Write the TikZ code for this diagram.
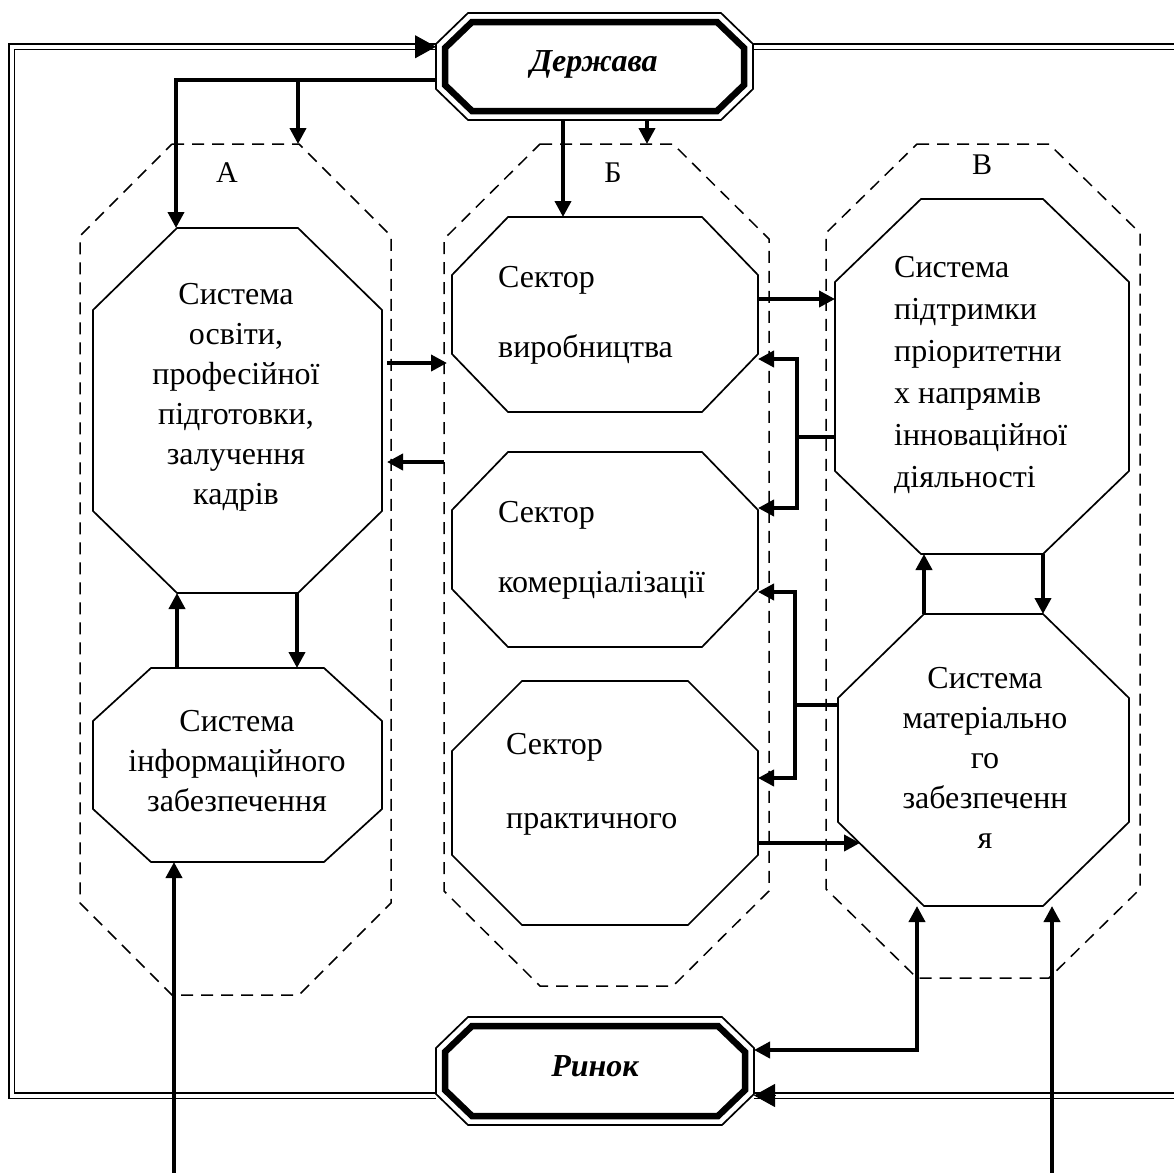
\documentclass[tikz,border=0pt]{standalone}
\usepackage{fontspec}
\setmainfont{Liberation Serif}
\usetikzlibrary{arrows.meta,calc}

\newcommand\octshape[4][]{\draw[#1] ($(#2.north west)+(#3,0)$) -- ($(#2.north east)+(-#3,0)$) -- ($(#2.north east)+(0,#4)$) -- ($(#2.south east)+(0,-#4)$) -- ($(#2.south east)+(-#3,0)$) -- ($(#2.south west)+(#3,0)$) -- ($(#2.south west)+(0,-#4)$) -- ($(#2.north west)+(0,#4)$) -- cycle;}

\tikzset{
  box/.style={inner sep=0pt, outer sep=0pt, draw=none},
  txt/.style={font=\fontsize{32}{40}\selectfont, inner sep=0pt, align=center},
  ltxt/.style={font=\fontsize{32}{40}\selectfont, inner sep=0pt, anchor=base west},
  lbl/.style={font=\fontsize{30}{36}\selectfont, inner sep=0pt},
  ttl/.style={font=\fontsize{32}{38}\selectfont\bfseries\itshape, inner sep=0pt},
  tip/.style={-{Triangle[length=16pt,width=16pt]}},
  conn/.style={line width=3.8pt, tip},
  wire/.style={line width=3.8pt},
  octline/.style={line width=1.7pt},
  dashoct/.style={line width=1.5pt, dash pattern=on 12pt off 8pt},
  dbl/.style={double, double distance=4pt, line width=1.6pt},
  frtip/.style={-{Triangle[length=21pt,width=23pt]}, line width=1pt}
}

\begin{document}
\begin{tikzpicture}[x=1pt,y=-1pt]
\path[use as bounding box] (0,0) rectangle (1173,1173);

% ---------- node boxes ----------
\node[box, minimum width=317pt, minimum height=107pt] (derz) at (594.5,66.5) {};
\node[box, minimum width=299pt, minimum height=89pt] (derzi) at (594.5,66.5) {};
\node[box, minimum width=318pt, minimum height=108pt] (rynok) at (595,1071) {};
\node[box, minimum width=300pt, minimum height=90pt] (rynoki) at (595,1071) {};

\node[box, minimum width=311pt, minimum height=851pt] (gA) at (235.5,569.5) {};
\node[box, minimum width=325pt, minimum height=842pt] (gB) at (606.5,565) {};
\node[box, minimum width=314pt, minimum height=834pt] (gC) at (983,561) {};

\node[box, minimum width=289pt, minimum height=365pt] (a1) at (237.5,410.5) {};
\node[box, minimum width=289pt, minimum height=194pt] (a2) at (237.5,765) {};
\node[box, minimum width=306pt, minimum height=195pt] (b1) at (605,314.5) {};
\node[box, minimum width=306pt, minimum height=195pt] (b2) at (605,549.5) {};
\node[box, minimum width=306pt, minimum height=244pt] (b3) at (605,803) {};
\node[box, minimum width=294pt, minimum height=355pt] (c1) at (982,376.5) {};
\node[box, minimum width=291pt, minimum height=292pt] (c2) at (983.5,760) {};

% ---------- frame ----------
\coordinate (fL) at (11.5,0);
\coordinate (fR) at (1185,0);
\coordinate (fT) at (0,46.75);
\coordinate (fB) at (0,1095.5);
\draw[dbl] (rynok.west |- fB) -- (fL |- fB) -- (fL |- fT) -- (derz.west |- fT);
\draw[dbl] (derz.east |- fT) -- (fR |- fT);
\draw[dbl] (fR |- fB) -- (rynok.east |- fB);

% ---------- groups ----------
\octshape[dashoct]{gA}{92}{92}
\octshape[dashoct]{gB}{96}{95}
\octshape[dashoct]{gC}{91}{89}

% ---------- blocks ----------
\octshape[octline]{a1}{84}{82}
\octshape[octline]{a2}{58}{53}
\octshape[octline]{b1}{56}{58}
\octshape[octline]{b2}{56}{58}
\octshape[octline]{b3}{70}{70}
\octshape[octline]{c1}{86}{83}
\octshape[octline]{c2}{86}{84}

% ---------- Держава / Ринок ----------
\octshape[octline, fill=white]{derz}{32}{31}
\octshape[line width=6.5pt]{derzi}{27}{26}
\octshape[octline, fill=white]{rynok}{32}{31}
\octshape[line width=6.5pt]{rynoki}{27}{26}
\draw[frtip] ($(derz.west |- fT)+(-21,0)$) -- (derz.west |- fT);
\draw[frtip] ($(rynok.east |- fB)+(21,0)$) -- (rynok.east |- fB);

% ---------- connectors ----------
\coordinate (k1) at (176,80);
\coordinate (k2) at (298,80);
\draw[conn] (derz.west |- k1) -- (k1) -- (k1 |- a1.north);
\draw[conn] (k2) -- (k2 |- gA.north);
\coordinate (k3) at (563,0);
\draw[conn] (k3 |- derz.south) -- (k3 |- b1.north);
\coordinate (k4) at (647,0);
\draw[conn] (k4 |- derz.south) -- (k4 |- gB.north);

\coordinate (k5) at (177,0);
\draw[conn] (k5 |- a2.north) -- (k5 |- a1.south);
\coordinate (k6) at (297,0);
\draw[conn] (k6 |- a1.south) -- (k6 |- a2.north);
\coordinate (k7) at (174,1185);
\draw[conn] (k7) -- (k7 |- a2.south);

\coordinate (h1) at (0,363);
\draw[conn, shorten <=-4pt, shorten >=-3pt] (gA.east |- h1) -- (gB.west |- h1);
\coordinate (h2) at (0,462);
\draw[conn, shorten >=-4pt] (gB.west |- h2) -- (gA.east |- h2);

\coordinate (h3) at (0,299);
\draw[conn] (b1.east |- h3) -- (c1.west |- h3);

\coordinate (m1) at (797,437);
\coordinate (h4) at (0,359);
\coordinate (h5) at (0,508);
\draw[wire] (c1.west |- m1) -- (m1);
\draw[conn] (m1) |- (b1.east |- h4);
\draw[conn] (m1) |- (b2.east |- h5);

\coordinate (m2) at (795,705);
\coordinate (h6) at (0,592);
\coordinate (h7) at (0,778);
\draw[wire] (c2.west |- m2) -- (m2);
\draw[conn] (m2) |- (b2.east |- h6);
\draw[conn] (m2) |- (b3.east |- h7);

\coordinate (h8) at (0,843);
\coordinate (c2in) at (860,843);
\draw[conn] (b3.east |- h8) -- (c2in);

\coordinate (k8) at (924,0);
\draw[conn] (k8 |- c2.north) -- (k8 |- c1.south);
\coordinate (k9) at (1043,0);
\draw[conn] (k9 |- c1.south) -- (k9 |- c2.north);

\coordinate (k10) at (917,1050);
\draw[line width=3.8pt, {Triangle[length=16pt,width=16pt]}-{Triangle[length=16pt,width=16pt]}] (k10 |- c2.south) -- (k10) -- (rynok.east |- k10);
\coordinate (k11) at (1052,1185);
\draw[conn] (k11) -- (k11 |- c2.south);

% ---------- texts ----------
\node[ttl] (derzt) at (594,64) {Держава};
\node[ttl] (rynokt) at (595,1066.5) {Ринок};

\node[lbl] (la) at (227,173) {А};
\node[lbl] (lb) at (613,173) {Б};
\node[lbl] (lc) at (982,165) {В};

\node[txt] (a1t) at (236,397.5) {Система\\освіти,\\професійної\\підготовки,\\залучення\\кадрів};
\node[txt] (a2t) at (237,761) {Система\\інформаційного\\забезпечення};

\node[ltxt] (b1t1) at (498,287) {Сектор};
\node[ltxt] (b1t2) at (498,357.5) {виробництва};
\node[ltxt] (b2t1) at (498,522) {Сектор};
\node[ltxt] (b2t2) at (498,592) {комерціалізації};
\node[ltxt] (b3t1) at (506,754) {Сектор};
\node[ltxt] (b3t2) at (506,828) {практичного};

\node[txt, font=\fontsize{32}{42}\selectfont, align=left, anchor=west] (c1t) at (894,375) {Система\\підтримки\\пріоритетни\\х напрямів\\інноваційної\\діяльності};
\node[txt] (c2t) at (985,758) {Система\\матеріально\\го\\забезпеченн\\я};
\end{tikzpicture}
\end{document}
